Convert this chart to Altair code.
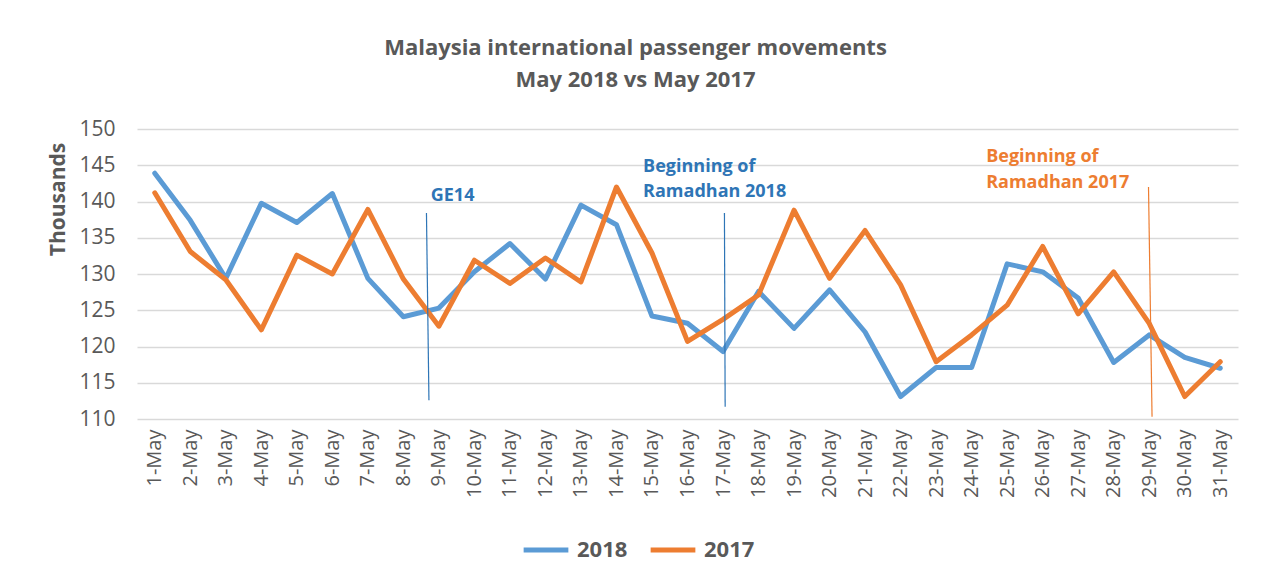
import altair as alt
import pandas as pd

days = list(range(1, 32))
v2018 = [143.9, 137.4, 129.4, 139.75, 137.1, 141.1, 129.4, 124.1, 125.3, 130.3,
         134.2, 129.3, 139.5, 136.8, 124.2, 123.2, 119.3, 127.6, 122.5, 127.8,
         122.0, 113.1, 117.1, 117.1, 131.4, 130.3, 126.7, 117.8, 121.6, 118.5, 117.0]
v2017 = [141.2, 133.1, 129.2, 122.3, 132.6, 130.0, 138.9, 129.3, 122.8, 131.9,
         128.7, 132.2, 128.9, 142.0, 132.9, 120.7, 123.75, 127.1, 138.8, 129.4,
         136.0, 128.5, 117.9, 121.6, 125.7, 133.8, 124.5, 130.3, 123.2, 113.1, 117.9]

series_names = ["2018", "2017"]
series_colors = ["#5B9BD5", "#ED7D31"]
y_ticks = [110, 115, 120, 125, 130, 135, 140, 145, 150]

# annotation rules (x in day units, y in thousands)
rule_names = ["GE14", "Ramadhan 2018", "Ramadhan 2017"]
rule_x = [8.65, 17.04, 28.98]
rule_x2 = [8.72, 17.06, 29.08]
rule_ytop = [138.4, 138.4, 142.0]
rule_ybot = [112.6, 111.7, 110.3]
rule_colors = ["#2E75B6", "#2E75B6", "#ED7D31"]

text_lines = ["GE14", "Beginning of", "Ramadhan 2018", "Beginning of", "Ramadhan 2017"]
text_x = [8.77, 14.75, 14.75, 24.41, 24.41]
text_y = [140.76, 144.76, 141.3, 146.1, 142.55]
text_colors = ["#2E75B6", "#2E75B6", "#2E75B6", "#ED7D31", "#ED7D31"]

df = pd.DataFrame({
    "day": days * 2,
    "value": v2018 + v2017,
    "series": ["2018"] * 31 + ["2017"] * 31,
})
rules = pd.DataFrame({"name": rule_names, "x": rule_x, "x2": rule_x2,
                      "y": rule_ytop, "y2": rule_ybot, "color": rule_colors})
texts = pd.DataFrame({"text": text_lines, "x": text_x, "y": text_y, "color": text_colors})

FONT = "Open Sans"
GREY = "#595959"

xscale = alt.Scale(domain=[0.5, 31.5], nice=False, zero=False)
yscale = alt.Scale(domain=[110, 150], nice=False, zero=False)

xaxis = alt.Axis(values=days, labelExpr="datum.value + '-May'", labelAngle=270,
                 grid=False, ticks=False, domain=False, title=None,
                 labelFontSize=20, labelColor=GREY, labelPadding=10,
                 labelFont=FONT, labelOverlap=False)
yaxis = alt.Axis(values=y_ticks, tickCount=9,
                 grid=True, gridColor="#D9D9D9", gridWidth=1.5,
                 ticks=False, domain=False, title="Thousands",
                 titleFontSize=21, titleFont=FONT, titleFontWeight="bold",
                 titleColor=GREY, titlePadding=10, titleY=70,
                 labelFontSize=21, labelColor=GREY, labelPadding=22, labelFont=FONT,
                 labelOverlap=False)

lines = alt.Chart(df).mark_line(strokeWidth=5, strokeJoin="round", strokeCap="round").encode(
    x=alt.X("day:Q", scale=xscale, axis=xaxis),
    y=alt.Y("value:Q", scale=yscale, axis=yaxis),
    color=alt.Color("series:N", sort=series_names,
                    scale=alt.Scale(domain=series_names, range=series_colors),
                    legend=alt.Legend(title=None, orient="none", direction="horizontal",
                                      legendX=384, legendY=396,
                                      symbolType="stroke", symbolSize=2000,
                                      symbolStrokeWidth=5, labelFontSize=22,
                                      labelFontWeight="bold", labelColor=GREY,
                                      labelFont=FONT, columnPadding=12, labelOffset=6)),
    order=alt.Order("day:Q"),
)

rule_layer = alt.Chart(rules).mark_rule(strokeWidth=1.2).encode(
    x=alt.X("x:Q", scale=xscale, axis=xaxis),
    x2="x2:Q",
    y=alt.Y("y:Q", scale=yscale, axis=yaxis),
    y2="y2:Q",
    color=alt.Color("color:N", scale=None),
)

text_layer = alt.Chart(texts).mark_text(align="left", baseline="middle", fontSize=18,
                                        fontWeight="bold", font=FONT).encode(
    x=alt.X("x:Q", scale=xscale, axis=xaxis),
    y=alt.Y("y:Q", scale=yscale, axis=yaxis),
    text="text:N",
    color=alt.Color("color:N", scale=None),
)

chart = alt.layer(lines, rule_layer, text_layer).properties(
    width=1101, height=290,
    title=alt.TitleParams(
        text=["Malaysia international passenger movements", "May 2018 vs May 2017"],
        fontSize=22, font=FONT, fontWeight="bold", color=GREY, anchor="middle",
        dx=-52, offset=26, lineHeight=32),
    autosize=alt.AutoSizeParams(type="none"),
    padding={"left": 137, "top": 129, "right": 28, "bottom": 159},
).configure(font=FONT, background="white").configure_view(stroke=None, strokeWidth=0)

chart.save("out.html", embed_options={"renderer": "svg", "actions": False})
